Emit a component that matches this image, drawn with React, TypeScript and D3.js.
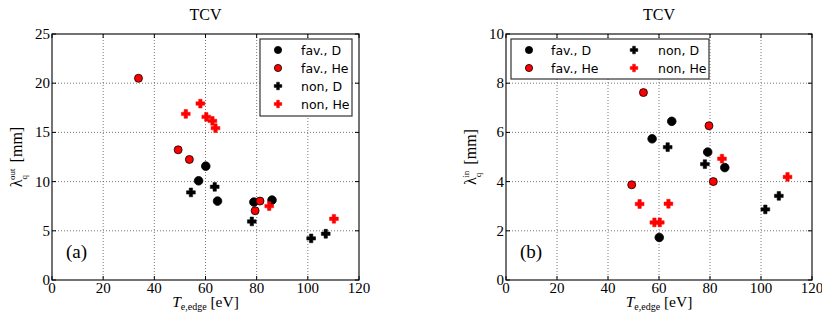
import React from "react";
import * as d3 from "d3";

// Left panel (a): lambda_q^out
const aFavD: [number, number][] = [[60.1, 11.57], [57.3, 10.08], [64.7, 8.02], [78.9, 7.92], [86.0, 8.12]];
const aFavHe: [number, number][] = [[33.8, 20.5], [49.3, 13.23], [53.7, 12.25], [79.4, 7.04], [81.3, 8.02]];
const aNonD: [number, number][] = [[54.3, 8.9], [63.6, 9.47], [78.1, 5.95], [101.3, 4.23], [107.0, 4.7]];
const aNonHe: [number, number][] = [[52.3, 16.88], [58.0, 17.93], [60.3, 16.58], [62.7, 16.17], [63.9, 15.43], [84.9, 7.51], [110.2, 6.22]];

// Right panel (b): lambda_q^in
const bFavD: [number, number][] = [[65.0, 6.45], [57.3, 5.74], [79.1, 5.2], [85.8, 4.57], [60.1, 1.73]];
const bFavHe: [number, number][] = [[53.9, 7.62], [79.6, 6.27], [49.3, 3.87], [81.3, 4.0]];
const bNonD: [number, number][] = [[63.4, 5.4], [78.0, 4.71], [101.7, 2.87], [107.0, 3.42]];
const bNonHe: [number, number][] = [[52.4, 3.09], [63.7, 3.1], [58.2, 2.34], [60.3, 2.34], [84.7, 4.93], [110.4, 4.19]];

const xTicks = [0, 20, 40, 60, 80, 100, 120];
const aYTicks = [0, 5, 10, 15, 20, 25];
const bYTicks = [0, 2, 4, 6, 8, 10];
const legendLabels = ["fav., D", "fav., He", "non, D", "non, He"];

const SERIF = "'Liberation Serif', 'DejaVu Serif', serif";
const SANS = "'DejaVu Sans', sans-serif";

function Circle({ x, y, fill, r = 4 }: { x: number; y: number; fill: string; r?: number }) {
  return <circle cx={x} cy={y} r={r} fill={fill} stroke="#000" strokeWidth={0.8} />;
}

function Plus({ x, y, fill, s = 4.4, w = 1.7 }: { x: number; y: number; fill: string; s?: number; w?: number }) {
  const d = `M${x - w},${y - s}H${x + w}V${y - w}H${x + s}V${y + w}H${x + w}V${y + s}H${x - w}V${y + w}H${x - s}V${y - w}H${x - w}Z`;
  return <path d={d} fill={fill} stroke={fill} strokeWidth={0.5} />;
}

type PanelProps = {
  left: number;
  right: number;
  yMax: number;
  yTicks: number[];
  favD: [number, number][];
  favHe: [number, number][];
  nonD: [number, number][];
  nonHe: [number, number][];
  sup: string;
  tag: string;
  legend: "col" | "grid";
};

function Panel(p: PanelProps) {
  const top = 34;
  const bottom = 280;
  const x = d3.scaleLinear().domain([0, 120]).range([p.left, p.right]);
  const y = d3.scaleLinear().domain([0, p.yMax]).range([bottom, top]);
  const cx = (p.left + p.right) / 2;
  const tl = 4;
  return (
    <g>
      {xTicks.slice(1, -1).map((t) => (
        <line key={"gx" + t} x1={x(t)} x2={x(t)} y1={top} y2={bottom} stroke="#555" strokeWidth={0.8} strokeDasharray="1,2" />
      ))}
      {p.yTicks.slice(1, -1).map((t) => (
        <line key={"gy" + t} x1={p.left} x2={p.right} y1={y(t)} y2={y(t)} stroke="#555" strokeWidth={0.8} strokeDasharray="1,2" />
      ))}
      {xTicks.map((t) => (
        <g key={"tx" + t}>
          <line x1={x(t)} x2={x(t)} y1={bottom} y2={bottom - tl} stroke="#000" />
          <line x1={x(t)} x2={x(t)} y1={top} y2={top + tl} stroke="#000" />
          <text x={x(t)} y={293} textAnchor="middle" fontFamily={SERIF} fontSize={15} fill="#000">{t}</text>
        </g>
      ))}
      {p.yTicks.map((t) => (
        <g key={"ty" + t}>
          <line x1={p.left} x2={p.left + tl} y1={y(t)} y2={y(t)} stroke="#000" />
          <line x1={p.right} x2={p.right - tl} y1={y(t)} y2={y(t)} stroke="#000" />
          <text x={p.left - 2} y={y(t) + 5} textAnchor="end" fontFamily={SERIF} fontSize={15} fill="#000">{t}</text>
        </g>
      ))}
      {p.favD.map((d, i) => <Circle key={"fd" + i} x={x(d[0])} y={y(d[1])} fill="#000" r={4.3} />)}
      {p.favHe.map((d, i) => <Circle key={"fh" + i} x={x(d[0])} y={y(d[1])} fill="#f00" r={4} />)}
      {p.nonD.map((d, i) => <Plus key={"nd" + i} x={x(d[0])} y={y(d[1])} fill="#000" />)}
      {p.nonHe.map((d, i) => <Plus key={"nh" + i} x={x(d[0])} y={y(d[1])} fill="#f00" />)}
      {p.legend === "col" ? (
        <g>
          <rect x={260} y={39} width={92} height={77} fill="#fff" stroke="#333" strokeWidth={1.2} />
          {legendLabels.map((l, i) => {
            const ly = 50 + i * 18;
            return (
              <g key={l}>
                {i < 2 ? <Circle x={278} y={ly} fill={i === 0 ? "#000" : "#f00"} r={3.6} /> : <Plus x={278} y={ly} fill={i === 2 ? "#000" : "#f00"} s={3.8} w={1.4} />}
                <text x={301} y={ly + 4.5} fontFamily={SANS} fontSize={12.5} fill="#000">{l}</text>
              </g>
            );
          })}
        </g>
      ) : (
        <g>
          <rect x={511} y={39} width={198} height={40} fill="#fff" stroke="#333" strokeWidth={1.2} />
          {legendLabels.map((l, i) => {
            const col = Math.floor(i / 2);
            const ly = 50 + (i % 2) * 18;
            const mx = col === 0 ? 529 : 634;
            const tx = col === 0 ? 551 : 658;
            return (
              <g key={l}>
                {i < 2 ? <Circle x={mx} y={ly} fill={i === 0 ? "#000" : "#f00"} r={3.6} /> : <Plus x={mx} y={ly} fill={i === 2 ? "#000" : "#f00"} s={3.8} w={1.4} />}
                <text x={tx} y={ly + 4.5} fontFamily={SANS} fontSize={12.5} fill="#000">{l}</text>
              </g>
            );
          })}
        </g>
      )}
      <rect x={p.left} y={top} width={p.right - p.left} height={bottom - top} fill="none" stroke="#000" strokeWidth={1.1} />
      <text x={p.left + 14} y={258} fontFamily={SERIF} fontSize={19} fill="#000">{p.tag}</text>
      <text x={cx} y={20} textAnchor="middle" fontFamily={SERIF} fontSize={16} fill="#000">TCV</text>
      <text x={cx} y={307} textAnchor="middle" fontFamily={SERIF} fontSize={15.5} fill="#000">
        <tspan fontStyle="italic">T</tspan>
        <tspan fontSize={10} dy={3}>e,edge</tspan>
        <tspan dy={-3}> [eV]</tspan>
      </text>
      <text transform={`translate(${p.left - 30},${(top + bottom) / 2}) rotate(-90)`} textAnchor="middle" fontFamily={SERIF} fontSize={16} fill="#000">
        <tspan>λ</tspan>
        <tspan fontSize={9} dy={5}>q</tspan>
        <tspan fontSize={9} dy={-12} dx={-5}>{p.sup}</tspan>
        <tspan dy={7} dx={2}> [mm]</tspan>
      </text>
    </g>
  );
}

export default function App() {
  return (
    <svg width={822} height={322} style={{ position: "absolute", left: 0, top: 0, background: "#fff" }}>
      <rect width={822} height={322} fill="#fff" />
      <Panel left={52} right={359} yMax={25} yTicks={aYTicks} favD={aFavD} favHe={aFavHe} nonD={aNonD} nonHe={aNonHe} sup="out" tag="(a)" legend="col" />
      <Panel left={506} right={812} yMax={10} yTicks={bYTicks} favD={bFavD} favHe={bFavHe} nonD={bNonD} nonHe={bNonHe} sup="in" tag="(b)" legend="grid" />
    </svg>
  );
}
